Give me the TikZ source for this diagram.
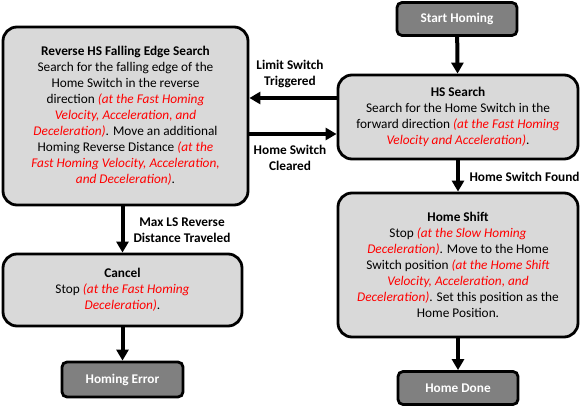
\documentclass[tikz,border=0pt]{standalone}
\usepackage{fontspec}
\setmainfont{Carlito}
\usetikzlibrary{arrows.meta}

\newcommand{\redit}[1]{{\color{red}\itshape #1}}

\begin{document}
\begin{tikzpicture}[
  x=1pt, y=-1pt,
  stepbox/.style={
        draw,
        line width=2.8pt,
        rounded corners=14pt,
        fill=black!15,
        align=center,
        inner sep=0pt,
        font=\fontsize{13.3}{16}\selectfont
  },
  endbox/.style={
        draw,
        line width=2.8pt,
        rounded corners=5pt,
        fill=black!50,
        text=white,
        minimum width=120pt,
        minimum height=33pt,
        font=\fontsize{13.3}{16}\selectfont\bfseries
  },
  flow/.style={
        line width=4pt,
        -{Triangle[length=11pt,width=12pt]}
  },
  flowlabel/.style={
        align=center,
        font=\fontsize{13.3}{16}\selectfont\bfseries
  }
]

    \useasboundingbox (0,0) rectangle (581,411);

    \node[endbox] (start) at (457,19) {Start Homing};

    \node[stepbox, minimum width=240pt, minimum height=84pt] (hssearch) at (458,117)
      {\textbf{HS Search}\\
       Search for the Home Switch in the\\
       forward direction \redit{(at the Fast Homing}\\
       \redit{Velocity and Acceleration)}.};

    \node[stepbox, minimum width=245pt, minimum height=178pt] (reverse) at (125.5,116)
      {\textbf{Reverse HS Falling Edge Search}\\
       Search for the falling edge of the\\
       Home Switch in the reverse\\
       direction \redit{(at the Fast Homing}\\
       \redit{Velocity, Acceleration, and}\\
       \redit{Deceleration)}. Move an additional\\
       Homing Reverse Distance \redit{(at the}\\
       \redit{Fast Homing Velocity, Acceleration,}\\
       \redit{and Deceleration)}.};

    \node[stepbox, minimum width=240pt, minimum height=144pt] (homeshift) at (458,265)
      {\textbf{Home Shift}\\
       Stop \redit{(at the Slow Homing}\\
       \redit{Deceleration)}. Move to the Home\\
       Switch position \redit{(at the Home Shift}\\
       \redit{Velocity, Acceleration, and}\\
       \redit{Deceleration)}. Set this position as the\\
       Home Position.};

    \node[stepbox, minimum width=239pt, minimum height=72pt] (cancel) at (122.5,290)
      {\textbf{Cancel}\\
       Stop \redit{(at the Fast Homing}\\
       \redit{Deceleration)}.};

    \node[endbox] (homedone) at (458,388) {Home Done};
    \node[endbox, minimum width=121pt, minimum height=35pt] (homingerror) at (122.5,379.5) {Homing Error};

    % levels of the two side arrows
    \coordinate (upper) at (0,98);
    \coordinate (lower) at (0,134);

    \draw[flow] (start) -- (hssearch);
    \draw[flow] (hssearch.west |- upper) -- (reverse.east |- upper);
    \draw[flow] (reverse.east |- lower) -- (hssearch.west |- lower);
    \draw[flow] (hssearch) -- (homeshift);
    \draw[flow] (homeshift) -- (homedone);
    \draw[flow] (reverse.south -| cancel) -- (cancel);
    \draw[flow] (cancel) -- (homingerror);

    \node[flowlabel] (lstrig) at (290,74) {Limit Switch\\Triggered};
    \node[flowlabel] (hscleared) at (290,158) {Home Switch\\Cleared};
    \node[flowlabel, anchor=west] (hsfound) at (466,177) {Home Switch Found};
    \node[flowlabel] (maxls) at (182,230) {Max LS Reverse\\Distance Traveled};
\end{tikzpicture}
\end{document}
